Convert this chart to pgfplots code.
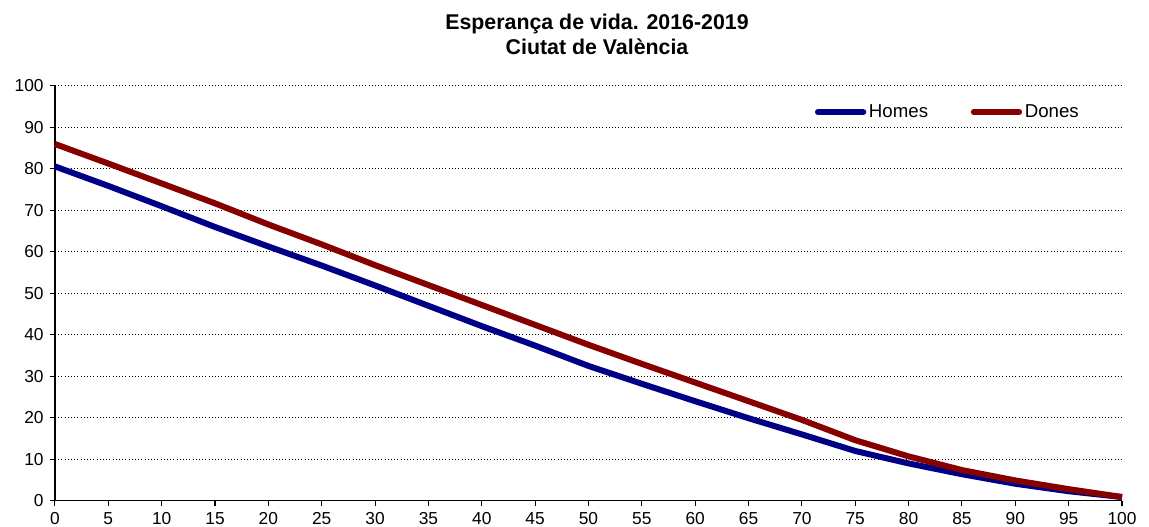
\documentclass[border=0pt]{standalone}
\usepackage{pgfplots}
\pgfplotsset{compat=1.18}
\usepackage{fontspec}
\setmainfont{Liberation Sans}
\definecolor{homes}{RGB}{0,0,135}
\definecolor{dones}{RGB}{135,0,0}
\begin{document}
\begin{tikzpicture}
\begin{axis}[
  scale only axis,
  width=800pt, height=311pt,
  xmin=0, xmax=100, ymin=0, ymax=100,
  xtick={0,5,...,100}, ytick={0,10,...,100},
  axis x line*=bottom, axis y line*=left,
  axis line style={black, line width=0.9pt, -},
  tick style={black, line width=0.8pt},
  tick align=outside, major tick length=4pt,
  ymajorgrids,
  grid style={black, dotted, line width=0.7pt},
  every tick label/.append style={font=\fontsize{13}{15}\selectfont},
  /pgf/number format/assume math mode=true,
  yticklabel style={xshift=-1pt},
  xticklabel style={yshift=-1pt},
  clip=false,
  legend columns=2,
  legend style={draw=none, fill=none, at={(0.712,0.937)}, anchor=west, inner sep=0pt,
    font=\fontsize{14}{16}\selectfont, /tikz/every even column/.append style={column sep=30pt}},
  legend image code/.code={\draw[#1, line cap=round] (0pt,0pt) -- (34pt,0pt);},
]
\addplot[homes, line width=4.5pt, line join=round] coordinates {
(0,80.6) (5,75.9) (10,71.0) (15,66.0) (20,61.3) (25,56.7) (30,51.9) (35,47.0) (40,42.1) (45,37.4)
(50,32.5) (55,28.2) (60,24.0) (65,19.9) (70,16.0) (75,12.0) (80,9.0) (85,6.4) (90,4.1) (95,2.3) (100,0.9)
};
\addlegendentry{Homes}
\addplot[dones, line width=4.5pt, line join=round] coordinates {
(0,86.0) (5,81.3) (10,76.5) (15,71.7) (20,66.6) (25,61.8) (30,56.8) (35,52.0) (40,47.2) (45,42.4)
(50,37.6) (55,33.0) (60,28.5) (65,24.0) (70,19.5) (75,14.6) (80,10.7) (85,7.4) (90,4.9) (95,2.8) (100,0.9)
};
\addlegendentry{Dones}
\node[font=\bfseries\fontsize{16}{19}\selectfont, align=center] at (rel axis cs:0.508,1.125)
  {Esperança de vida. 2016-2019\\Ciutat de València};
\coordinate (BL) at (rel axis cs:-0.0515,-0.0627);
\coordinate (TR) at (rel axis cs:1.0253,1.2072);
\end{axis}
\pgfresetboundingbox
\path[use as bounding box] (BL) rectangle (TR);
\end{tikzpicture}
\end{document}
